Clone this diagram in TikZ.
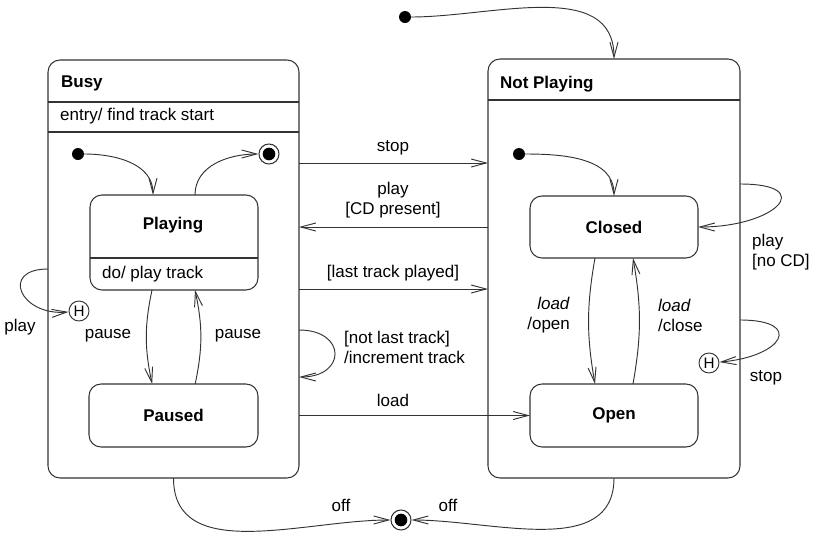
\documentclass[tikz,border=0pt]{standalone}
\usepackage{fontspec}
\setmainfont{Liberation Sans}
\usetikzlibrary{arrows.meta}

\begin{document}
\begin{tikzpicture}[x=0.3mm, y=-0.3mm,
	every node/.style={font=\fontsize{14.5}{17}\selectfont, text=black},
	composite/.style={draw=black!80, line width=0.9pt, rounded corners=3.6mm, inner sep=0pt, outer sep=0pt},
	simple/.style={composite, font=\fontsize{14.5}{17}\selectfont\bfseries},
	initial/.style={circle, fill=black, inner sep=0pt, minimum size=3.6mm},
	final/.style={circle, draw=black!80, line width=0.9pt, inner sep=0pt, minimum size=6mm, path picture={\fill[black] (path picture bounding box.center) circle (1.9mm);}},
	history/.style={circle, draw=black!80, line width=0.8pt, inner sep=0pt, minimum size=6mm, font=\fontsize{13}{15}\selectfont},
	trans/.style={draw=black!80, line width=0.8pt, -{Straight Barb[length=4.5mm, width=2.4mm]}},
	divider/.style={draw=black!80, line width=0.9pt}
	]
				\useasboundingbox (0, 0) rectangle (813, 535);

				\node[composite, minimum width=75.3mm, minimum height=125.4mm] at (173.5, 269) (busy) {};
				\node[composite, minimum width=75.6mm, minimum height=125.7mm] at (614, 268.5) (not-playing) {};
				\draw[divider] (busy.west |- 0, 102) -- (busy.east |- 0, 102);
				\draw[divider] (busy.west |- 0, 132) -- (busy.east |- 0, 132);
				\draw[divider] (not-playing.west |- 0, 100) -- (not-playing.east |- 0, 100);

				\node[font=\fontsize{14.5}{17}\selectfont\bfseries, anchor=west] at (57, 83) (busy-title) {Busy};
				\node[anchor=west] at (56, 116) (busy-entry) {entry/ find track start};
				\node[font=\fontsize{14.5}{17}\selectfont\bfseries, anchor=west] at (496, 84) (not-playing-title) {Not Playing};

				\node[simple, minimum width=50.4mm, minimum height=28.5mm] at (174, 242.5) (playing) {};
				\draw[divider] (playing.west |- 0, 258) -- (playing.east |- 0, 258);
				\node[font=\fontsize{14.5}{17}\selectfont\bfseries] at (173, 225) (playing-title) {Playing};
				\node[anchor=west] at (98, 274) (playing-do) {do/ play track};
				\node[simple, minimum width=50.7mm, minimum height=18.9mm] at (173.5, 415.5) (paused) {Paused};
				\node[simple, minimum width=50.4mm, minimum height=18.6mm] at (614, 227) (closed) {Closed};
				\node[simple, minimum width=50.4mm, minimum height=18.9mm] at (614, 415.5) (open) {Open};

				\node[initial] at (405, 17) (top-initial) {};
				\node[initial] at (78, 154) (busy-initial) {};
				\node[initial] at (519, 154) (not-playing-initial) {};
				\node[final] at (269, 154) (busy-final) {};
				\node[final] at (401, 520) (top-final) {};
				\node[history] at (79, 311) (busy-history) {H};
				\node[history] at (709, 363) (not-playing-history) {H};

				\node at (393, 148) (stop-label) {stop};
				\node[align=center] at (393, 200) (play-cd-label) {play\\{[CD present]}};
				\node at (393, 273) (last-track-label) {[last track played]};
				\node[anchor=west, align=left] at (340, 347) (not-last-label) {[not last track]\\/increment track};
				\node at (393, 400) (load-label) {load};
				\node[anchor=east, align=right] at (574, 315) (load-open-label) {\textit{load}\\/open};
				\node[anchor=west, align=left] at (654, 315) (load-close-label) {\textit{load}\\/close};
				\node[anchor=west, align=left] at (748, 252) (no-cd-label) {play\\{[no CD]}};
				\node at (766, 378) (not-playing-stop-label) {stop};
				\node at (20, 327) (busy-play-label) {play};
				\node at (108, 336) (pause-down-label) {pause};
				\node at (238, 336) (pause-up-label) {pause};
				\node at (341, 505) (busy-off-label) {off};
				\node at (448, 505) (not-playing-off-label) {off};

				\draw[trans] (top-initial) to [out=0, in=90] (not-playing.north);
				\draw[trans] (busy-initial) to [out=0, in=90] ([xshift=-6.3mm]playing.north);
				\draw[trans] ([xshift=6.3mm]playing.north) to [out=90, in=180] (busy-final);
				\draw[trans] ([xshift=-6.6mm]playing.south) to [bend right=12] ([xshift=-6.4mm]paused.north);
				\draw[trans] ([xshift=6.5mm]paused.north) to [bend right=12] ([xshift=6.3mm]playing.south);
				\draw[trans] (busy.west) to [out=180, in=185, looseness=2.6] (busy-history);

				\draw[trans] (busy.east |- 0, 163) -- (not-playing.west |- 0, 163);
				\draw[trans] (not-playing.west |- 0, 227) -- (busy.east |- 0, 227);
				\draw[trans] (busy.east |- 0, 289) -- (not-playing.west |- 0, 289);
				\draw[trans] (busy.east |- 0, 330) to [out=0, in=0, looseness=2.6] (busy.east |- 0, 377);
				\draw[trans] (busy.east |- open.west) -- (open.west);

				\draw[trans] (not-playing-initial) to [out=0, in=90] (closed.north);
				\draw[trans] ([xshift=-5.7mm]closed.south) to [bend right=10] ([xshift=-5.7mm]open.north);
				\draw[trans] ([xshift=5.7mm]open.north) to [bend right=10] ([xshift=5.7mm]closed.south);
				\draw[trans] (not-playing.east |- 0, 184) to [out=0, in=0, looseness=3.3] (closed.east);
				\draw[trans] (not-playing.east |- 0, 320) to [out=0, in=5, looseness=3.5] (not-playing-history);

				\draw[trans] (busy.south) to [out=270, in=180] (top-final);
				\draw[trans] (not-playing.south) to [out=270, in=0] (top-final);
			\end{tikzpicture}
\end{document}
